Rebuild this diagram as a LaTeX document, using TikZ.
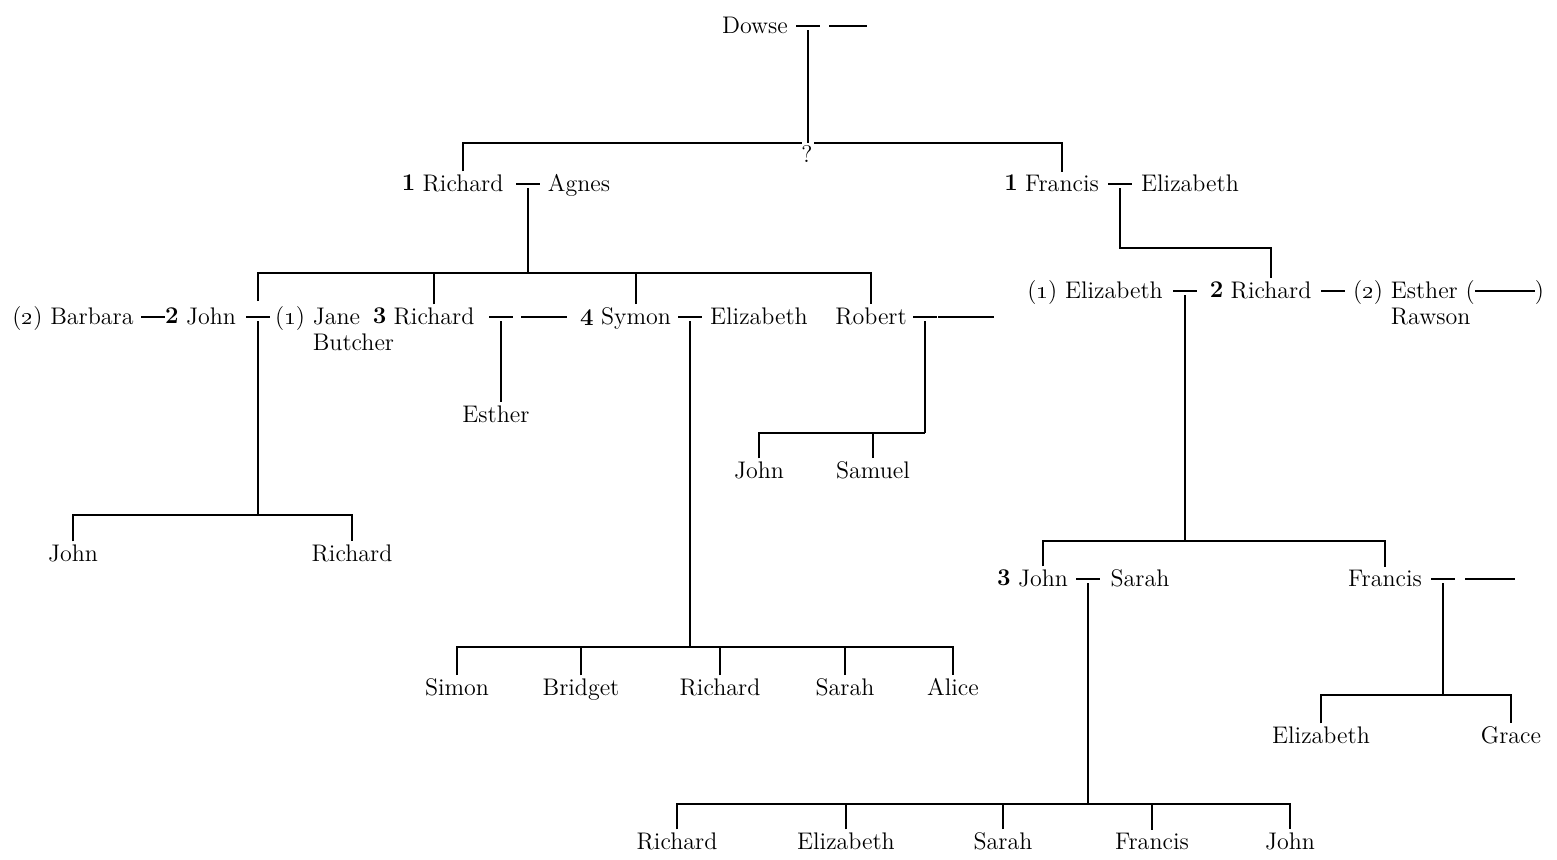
\documentclass[tikz,border=0pt]{standalone}
\usepackage{tikz}
\tikzset{
  person/.style = {inner sep=0pt, outer sep=1.5pt, anchor=base,
                   align=left, font=\fontsize{12}{13}\selectfont},
  gen/.style    = {inner sep=0pt, font=\fontsize{12}{13}\selectfont\bfseries},
  line/.style   = {line width=0.8pt}
}
\newcommand{\nobody}[1]{\rule[3.1pt]{#1}{0.8pt}}
\newcommand{\os}[1]{\oldstylenums{#1}}

\begin{document}
\begin{tikzpicture}[x=0.5pt, y=-0.5pt, label distance=2pt]
  \useasboundingbox (0,0) rectangle (1557,859);

  % first generation
  \node[person] (dowse)  at (755,33) {Dowse};
  \coordinate (m0) at (808,26);
  \node[person] (dowsew) at (848,33) {\nobody{19pt}};
  \coordinate (q0) at (808,143);
  \node[person] (q) at (807,162) {?};

  % second generation
  \node[person, label={[gen]left:1}] (rich1) at (463,191) {Richard};
  \coordinate (m1) at (528,184);
  \node[person] (agnes) at (579,191) {Agnes};
  \node[person, label={[gen]left:1}] (fran1) at (1062,191) {Francis};
  \coordinate (m2) at (1120,184);
  \node[person] (eliz1) at (1190,191) {Elizabeth};

  % third generation, left
  \node[person] (barbara) at (73,324) {(\os2) Barbara};
  \coordinate (mb) at (153,317);
  \node[person, label={[gen]left:2}] (john2) at (211,324) {John};
  \coordinate (m3) at (258,317);
  \node[person, anchor=base west] (jane) at (272,350) {(\os1) Jane\\\phantom{(\os1) }Butcher};
  \node[person, label={[gen]left:3}] (rich3) at (434,324) {Richard};
  \coordinate (m4) at (501,317);
  \node[person] (rich3w) at (544,324) {\nobody{23pt}};
  \node[person, label={[gen]left:4}] (symon) at (636,324) {Symon};
  \coordinate (m5) at (690,317);
  \node[person] (eliz2) at (759,324) {Elizabeth};
  \node[person] (robert) at (871,324) {Robert};
  \coordinate (m6) at (925,317);
  \node[person] (robertw) at (966,324) {\nobody{28pt}};

  % third generation, right
  \node[person] (eliz3) at (1095,298) {(\os1) Elizabeth};
  \coordinate (m7) at (1185,291);
  \node[person, label={[gen]left:2}] (rich2) at (1271,298) {Richard};
  \coordinate (m8) at (1333,291);
  \node[person, anchor=base west] (esther2) at (1350,324) {(\os2) Esther (\nobody{30pt})\\\phantom{(\os2) }Rawson};

  % fourth generation
  \node[person] (esther) at (496,422) {Esther};
  \node[person] (john5) at (759,478) {John};
  \node[person] (samuel) at (873,478) {Samuel};
  \node[person] (john4) at (73,561) {John};
  \node[person] (rich4) at (352,561) {Richard};
  \node[person, label={[gen]left:3}] (john3) at (1043,586) {John};
  \coordinate (m9) at (1088,579);
  \node[person] (sarah1) at (1140,586) {Sarah};
  \node[person] (fran3) at (1385,586) {Francis};
  \coordinate (m10) at (1443,579);
  \node[person] (fran3w) at (1490,586) {\nobody{25pt}};
  \node[person] (simon) at (457,695) {Simon};
  \node[person] (bridget) at (581,695) {Bridget};
  \node[person] (rich5) at (720,695) {Richard};
  \node[person] (sarah2) at (845,695) {Sarah};
  \node[person] (alice) at (953,695) {Alice};
  \node[person] (eliz4) at (1321,743) {Elizabeth};
  \node[person] (grace) at (1511,743) {Grace};

  % fifth generation
  \node[person] (rich6) at (677,849) {Richard};
  \node[person] (eliz5) at (846,849) {Elizabeth};
  \node[person] (sarah3) at (1003,849) {Sarah};
  \node[person] (fran4) at (1152,849) {Francis};
  \node[person] (john6) at (1290,849) {John};

  % bars
  \coordinate (b1) at (528,273);
  \coordinate (b2) at (0,248);
  \coordinate (b3) at (1185,541);
  \coordinate (b4) at (1443,695);
  \coordinate (b5) at (1088,804);
  \coordinate (b6) at (690,647);
  \coordinate (b7) at (258,515);
  \coordinate (b8) at (925,433);

  % marriage dashes
  \foreach \m in {m0,m1,m2,mb,m3,m4,m5,m6,m7,m8,m9,m10}
    \draw[line] ([xshift=-6pt]\m) -- ([xshift=6pt]\m);

  % descent lines
  \draw[line] ([yshift=-2pt]m0) -- (q0);
  \draw[line] (rich1.north) |- ([xshift=-3pt]q0);
  \draw[line] ([xshift=3pt]q0) -| (fran1.north);

  \draw[line] ([yshift=-2pt]m1) -- (b1);
  \draw[line] ([yshift=8pt]m3) |- (b1) -| (robert.north);
  \draw[line] (rich3.north) -- (rich3.north |- b1);
  \draw[line] (symon.north) -- (symon.north |- b1);

  \draw[line] ([yshift=-2pt]m2) -- (m2 |- b2) -| (rich2.north);

  \draw[line] ([yshift=-2pt]m3) -- (b7);
  \draw[line] (john4.north) |- (b7) -| (rich4.north);

  \draw[line] ([yshift=-2pt]m4) -- (m4 |- esther.north);

  \draw[line] ([yshift=-2pt]m5) -- (b6);
  \draw[line] (simon.north) |- (b6) -| (alice.north);
  \foreach \k in {bridget,rich5,sarah2}
    \draw[line] (\k.north) -- (\k.north |- b6);

  \draw[line] ([yshift=-2pt]m6) -- (b8);
  \draw[line] (john5.north) |- (b8);
  \draw[line] (samuel.north) -- (samuel.north |- b8);

  \draw[line] ([yshift=-2pt]m7) -- (b3);
  \draw[line] (john3.north) |- (b3) -| (fran3.north);

  \draw[line] ([yshift=-2pt]m10) -- (b4);
  \draw[line] (eliz4.north) |- (b4) -| (grace.north);

  \draw[line] ([yshift=-2pt]m9) -- (b5);
  \draw[line] (rich6.north) |- (b5) -| (john6.north);
  \foreach \k in {eliz5,sarah3,fran4}
    \draw[line] (\k.north) -- (\k.north |- b5);
\end{tikzpicture}
\end{document}
